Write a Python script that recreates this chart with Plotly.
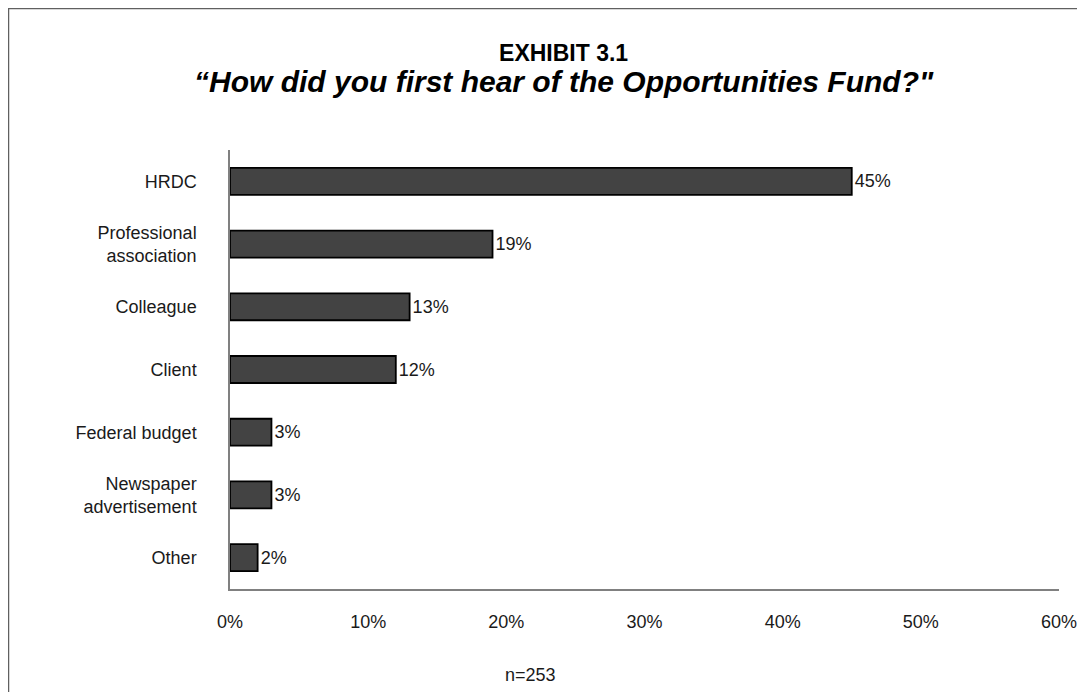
import plotly.graph_objects as go

categories = ["HRDC", "Professional<br>association", "Colleague", "Client",
              "Federal budget", "Newspaper<br>advertisement", "Other"]
values = [45, 19, 13, 12, 3, 3, 2]
x_ticks = [0, 10, 20, 30, 40, 50, 60]
x_tick_labels = ["0%", "10%", "20%", "30%", "40%", "50%", "60%"]

W, H = 1085, 692
L, R, T, B = 222, 34, 142, 111
pw, ph = W - L - R, H - T - B

def px(x):
    return (x - L) / pw

def py(y):
    return (H - B - y) / ph

FONT = "Liberation Sans, Arial, sans-serif"

fig = go.Figure(go.Bar(
    y=categories, x=values, orientation="h",
    marker=dict(color="#434343", line=dict(color="#000000", width=1.8)),
    width=0.43,
    text=[f"{v}%" for v in values], textposition="outside",
    textfont=dict(size=18, color="#1a1a1a", family=FONT),
    cliponaxis=False,
))

title_text = ("<span style='font-size:23px'><b>EXHIBIT 3.1</b></span><br>"
              "<span style='font-size:30px'><b><i>“How did you first hear of the "
              "Opportunities Fund?\"</i></b></span>")

fig.update_layout(
    width=W, height=H,
    margin=dict(l=L, r=R, t=T, b=B),
    paper_bgcolor="white", plot_bgcolor="white",
    showlegend=False,
    font=dict(family=FONT, size=18, color="#1a1a1a"),
    xaxis=dict(range=[0, 60], tickvals=x_ticks, ticktext=x_tick_labels,
               showgrid=False, zeroline=False, showline=True,
               linecolor="#808080", linewidth=1.5, ticks="",
               ticklabelstandoff=16, tickfont=dict(size=18),
               fixedrange=True),
    yaxis=dict(range=[6.5, -0.5], autorange=False,
               showgrid=False, zeroline=False, showline=True,
               linecolor="#808080", linewidth=1.5, ticks="",
               ticklabelstandoff=28, tickfont=dict(size=18)),
    shapes=[dict(type="rect", xref="paper", yref="paper",
                 x0=px(0.5), y0=py(H + 20), x1=px(W + 20), y1=py(0.5),
                 line=dict(color="#606060", width=1.5), fillcolor="rgba(0,0,0,0)")],
    annotations=[
        dict(text=title_text, xref="paper", yref="paper",
             x=px(556), y=py(61), xanchor="center", yanchor="middle",
             align="center", showarrow=False,
             font=dict(size=24, color="#000000")),
        dict(text="n=253", xref="paper", yref="paper", x=px(522), y=py(667),
             xanchor="center", yanchor="middle",
             showarrow=False, font=dict(size=18, color="#1a1a1a")),
    ],
)

fig.write_html("out.html")
